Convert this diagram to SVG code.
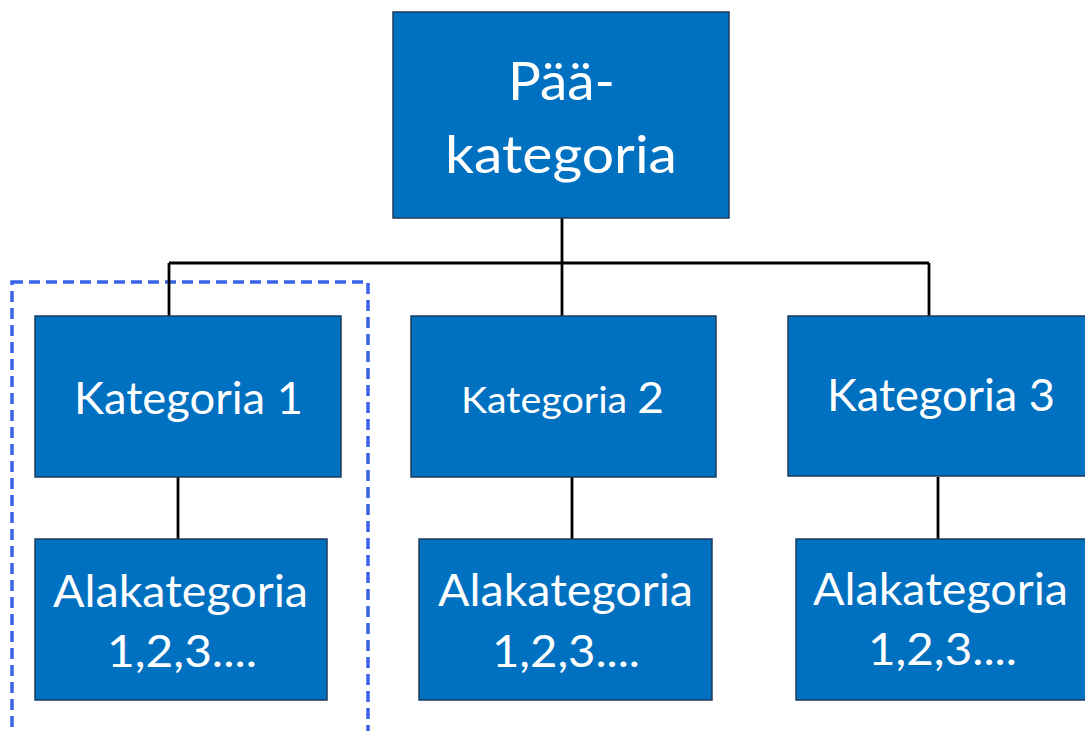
<svg xmlns="http://www.w3.org/2000/svg" width="1085" height="731" viewBox="0 0 1085 731">
  <style>
    .box { fill: #0070C0; stroke: #1f3b5c; stroke-width: 1.5; }
    .lbl { fill: #ffffff; font-family: Lato, "Noto Sans", sans-serif; text-anchor: start; }
    .big { font-size: 53px; }
    .mid { font-size: 44px; }
    .line { stroke: #000000; stroke-width: 2.8; fill: none; }
    .group { fill: none; stroke: #3b63e6; stroke-width: 3.5; stroke-dasharray: 11 6; }
  </style>
  <rect width="1085" height="731" fill="#ffffff"/>

  <!-- dashed grouping frame around the first branch -->
  <rect class="group" x="12" y="282" width="356" height="470"/>

  <!-- connectors -->
  <g id="connectors">
    <path class="line" d="M562 218 V316"/>
    <path class="line" d="M169 263 H929"/>
    <path class="line" d="M169 263 V316"/>
    <path class="line" d="M929 263 V316"/>
    <path class="line" d="M178 477 V539"/>
    <path class="line" d="M572 477 V539"/>
    <path class="line" d="M938 477 V539"/>
  </g>

  <g id="paakategoria">
    <rect class="box" x="393" y="12" width="336" height="206"/>
    <text class="lbl big" x="508" y="100" textLength="107" lengthAdjust="spacingAndGlyphs">Pää-</text>
    <text class="lbl big" x="445" y="173" textLength="232" lengthAdjust="spacingAndGlyphs">kategoria</text>
  </g>

  <g id="kategoria1">
    <rect class="box" x="35" y="316" width="306" height="161"/>
    <text class="lbl mid" x="74" y="414" textLength="229" lengthAdjust="spacingAndGlyphs">Kategoria 1</text>
  </g>

  <g id="kategoria2">
    <rect class="box" x="411" y="316" width="305" height="161"/>
    <text class="lbl" x="461" y="413" textLength="203" lengthAdjust="spacingAndGlyphs"><tspan font-size="36">Kategoria </tspan><tspan font-size="42">2</tspan></text>
  </g>

  <g id="kategoria3">
    <rect class="box" x="788" y="316" width="300" height="160"/>
    <text class="lbl mid" x="827" y="411" textLength="228" lengthAdjust="spacingAndGlyphs">Kategoria 3</text>
  </g>

  <g id="alakategoria1">
    <rect class="box" x="35" y="539" width="292" height="161"/>
    <text class="lbl mid" x="53" y="607" textLength="255" lengthAdjust="spacingAndGlyphs">Alakategoria</text>
    <text class="lbl mid" x="107" y="667" textLength="150" lengthAdjust="spacingAndGlyphs">1,2,3....</text>
  </g>

  <g id="alakategoria2">
    <rect class="box" x="419" y="539" width="293" height="161"/>
    <text class="lbl mid" x="438" y="606" textLength="255" lengthAdjust="spacingAndGlyphs">Alakategoria</text>
    <text class="lbl mid" x="492" y="667" textLength="148" lengthAdjust="spacingAndGlyphs">1,2,3....</text>
  </g>

  <g id="alakategoria3">
    <rect class="box" x="796" y="539" width="292" height="161"/>
    <text class="lbl mid" x="813" y="605" textLength="255" lengthAdjust="spacingAndGlyphs">Alakategoria</text>
    <text class="lbl mid" x="868" y="665" textLength="149" lengthAdjust="spacingAndGlyphs">1,2,3....</text>
  </g>
</svg>
